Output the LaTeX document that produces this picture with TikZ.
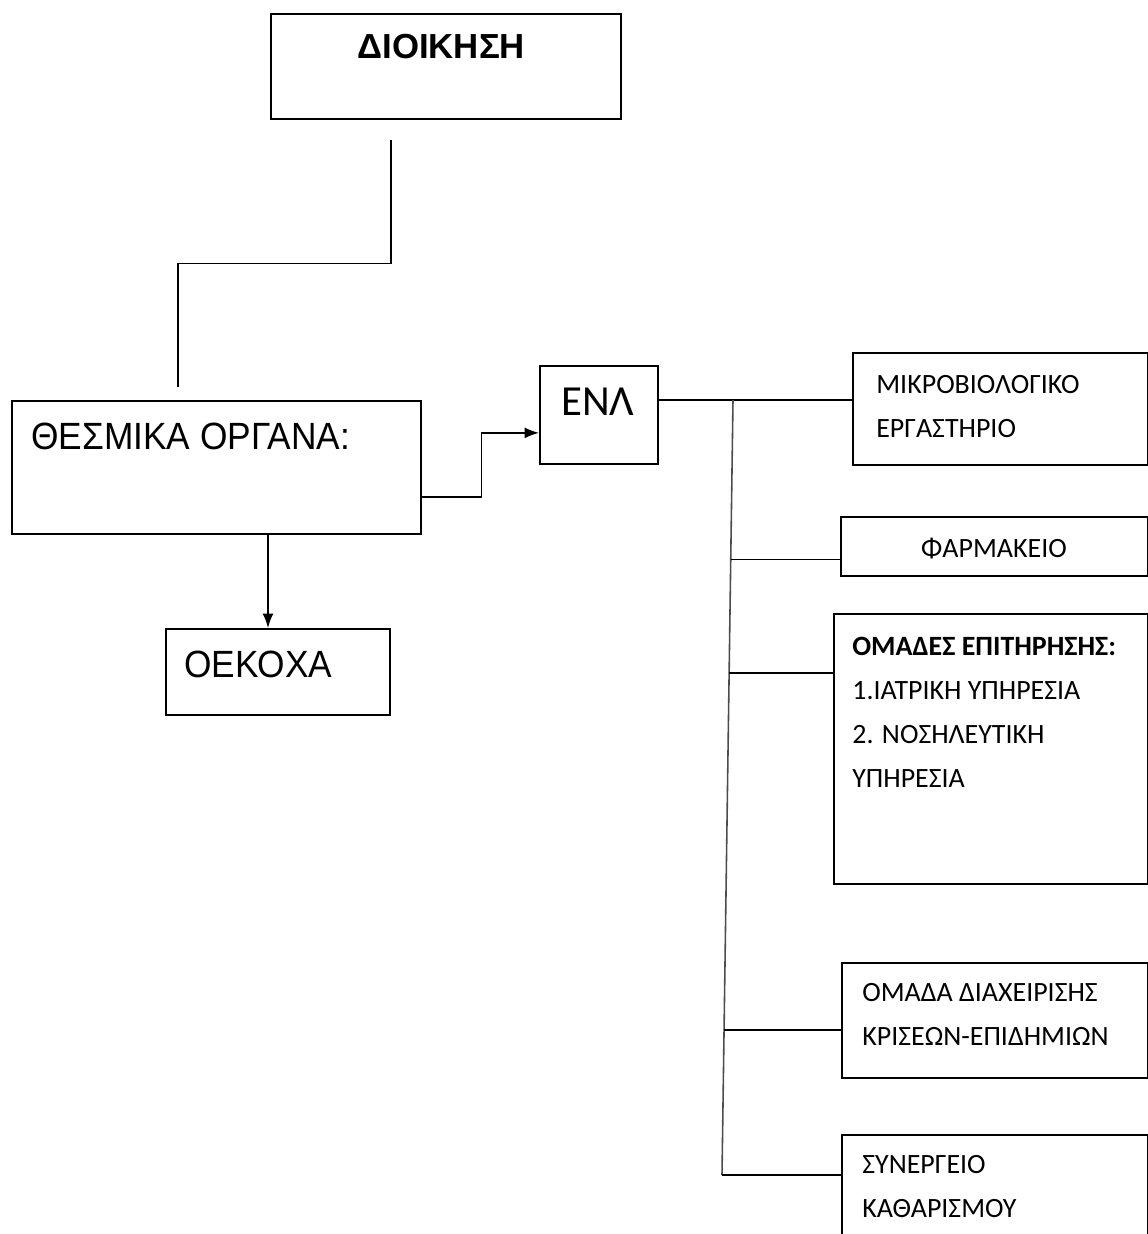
\documentclass[tikz,border=0pt]{standalone}
\usepackage{fontspec}
\setmainfont{Carlito}
\newfontfamily\arialfont[FakeStretch=0.93]{Liberation Sans}
\newfontfamily\arialplain{Liberation Sans}
\usepackage{tikz}
\usetikzlibrary{calc, arrows.meta}

\tikzset{
    box/.style={draw, line width=1pt, inner sep=0pt, anchor=north west},
    txt/.style={inner sep=0pt, anchor=base west, align=left},
    boxtxt/.style={txt, font=\fontsize{15.9}{25}\selectfont},
    bigtxt/.style={txt, font=\arialfont\fontsize{21.6}{26}\selectfont},
    link/.style={line width=0.9pt},
}

\begin{document}
\begin{tikzpicture}[>={Latex[length=2.9mm, width=2.2mm]}, x=0.02cm, y=-0.02cm]
    \useasboundingbox (0,0) rectangle (1148,1234);
    \clip (0,0) rectangle (1148,1234);

    % Πλαίσια αριστερά
    \node[box, minimum width=7cm, minimum height=2.1cm] (dioikisi) at (270,13) {};
    \node[box, minimum width=8.18cm, minimum height=2.66cm] (thesmika) at (11,400) {};
    \node[box, minimum width=4.48cm, minimum height=1.72cm] (oekoxa) at (165,628) {};
    \node[box, minimum width=2.36cm, minimum height=1.96cm] (enl) at (539,365) {};

    % Πλαίσια δεξιά
    \node[box, minimum width=5.9cm, minimum height=2.24cm] (mikro) at (852,352) {};
    \node[box, minimum width=6.14cm, minimum height=1.18cm] (farm) at (840,516) {};
    \node[box, minimum width=6.28cm, minimum height=5.4cm] (omades) at (833,613) {};
    \node[box, minimum width=6.12cm, minimum height=2.3cm] (krisi) at (841,962) {};
    \node[box, minimum width=6.12cm, minimum height=2.4cm] (synerg) at (841,1134) {};

    % Κείμενα (η βάση είναι η τελευταία γραμμή)
    \node[txt, font=\arialplain\bfseries\fontsize{19.8}{24}\selectfont] (dioikisi-t) at (357,58) {ΔΙΟΙΚΗΣΗ};
    \node[bigtxt] (thesmika-t) at (31,449) {ΘΕΣΜΙΚΑ ΟΡΓΑΝΑ:};
    \node[bigtxt] (oekoxa-t) at (184,677) {ΟΕΚΟΧΑ};
    \node[txt, font=\fontsize{24.4}{28}\selectfont] (enl-t) at (561,415) {ΕΝΛ};
    \node[boxtxt] (mikro-t) at (876,437) {ΜΙΚΡΟΒΙΟΛΟΓΙΚΟ\\ΕΡΓΑΣΤΗΡΙΟ};
    \node[boxtxt, anchor=base] (farm-t) at (994,557) {ΦΑΡΜΑΚΕΙΟ};
    \node[boxtxt] (omades-t) at (852,787) {\textbf{ΟΜΑΔΕΣ ΕΠΙΤΗΡΗΣΗΣ:}\\1.ΙΑΤΡΙΚΗ ΥΠΗΡΕΣΙΑ\\2. ΝΟΣΗΛΕΥΤΙΚΗ\\ΥΠΗΡΕΣΙΑ};
    \node[boxtxt] (krisi-t) at (862,1045) {ΟΜΑΔΑ ΔΙΑΧΕΙΡΙΣΗΣ\\ΚΡΙΣΕΩΝ-ΕΠΙΔΗΜΙΩΝ};
    \node[boxtxt] (synerg-t) at (862,1217) {ΣΥΝΕΡΓΕΙΟ\\ΚΑΘΑΡΙΣΜΟΥ};

    % Γραμμή από τη διοίκηση
    \coordinate (d-top) at (391,140);
    \coordinate (d-bot) at (178,387);
    \draw[link] (d-top) |- ($(d-top)!0.5!(d-bot)$) -| (d-bot);

    % Βέλη από τα θεσμικά όργανα
    \coordinate (ox-in) at (268,628);
    \draw[link, ->] (ox-in |- thesmika.south) -- (ox-in);
    \draw[link, ->] ([yshift=-0.59cm]thesmika.east) -- ++(60,0) |- ([yshift=-0.36cm]enl.west);

    % Κορμός προς τα δεξιά πλαίσια
    \coordinate (tr-top) at (733,400);
    \coordinate (tr-bot) at (722,1175);
    \coordinate (b-farm) at ($(tr-top)!0.206!(tr-bot)$);
    \coordinate (b-omades) at ($(tr-top)!0.352!(tr-bot)$);
    \coordinate (b-krisi) at ($(tr-top)!0.813!(tr-bot)$);
    \draw[link] (enl.east |- tr-top) -- (mikro.west |- tr-top);
    \draw[link, black!70] (tr-top) -- (tr-bot);
    \draw[link] (b-farm) -- (farm.west |- b-farm);
    \draw[link] (b-omades) -- (omades.west |- b-omades);
    \draw[link] (b-krisi) -- (krisi.west |- b-krisi);
    \draw[link] (tr-bot) -- (synerg.west |- tr-bot);
\end{tikzpicture}
\end{document}
